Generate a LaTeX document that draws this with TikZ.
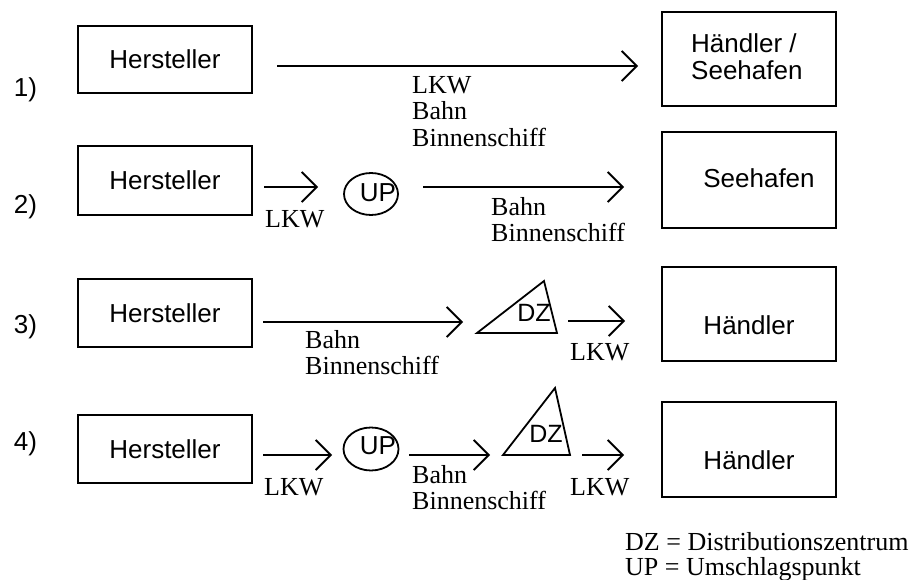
\documentclass[tikz,border=0pt]{standalone}
\usepackage{fontspec}
\setmainfont{Liberation Serif}
\newfontfamily\arialf{Liberation Sans}
\usetikzlibrary{arrows.meta,shapes.geometric}
\begin{document}
\begin{tikzpicture}[x=1pt,y=-1pt,
  lw/.style={line width=1.8pt},
  box/.style={draw,lw,minimum width=174pt,inner sep=0pt},
  sf/.style={font=\arialf\fontsize{26}{27}\selectfont,inner sep=0pt},
  rm/.style={font=\fontsize{26}{26.5}\selectfont,align=left,anchor=north west,inner sep=0pt},
  con/.style={lw,-{Straight Barb[length=15pt,width=30pt,line width=1.8pt]}},
  upnode/.style={draw,lw,ellipse,minimum width=54pt,minimum height=42pt,inner sep=0pt},
  tri/.style={lw,line join=miter}
]
\useasboundingbox (0,0) rectangle (915,580);

% row labels
\node[sf] (n1) at (25.5,90) {1)};
\node[sf] (n2) at (25.5,207) {2)};
\node[sf] (n3) at (25.5,327) {3)};
\node[sf] (n4) at (25.5,444) {4)};

% row 1
\node[box,minimum height=67pt,sf] (h1) at (165,59.5) {Hersteller};
\node[box,minimum height=94pt] (s1) at (749,59) {};
\node[sf,align=left,anchor=west] (s1t) at (691,56.5) {Händler /\\Seehafen};
\coordinate (a1s) at (277,66);
\coordinate (a1e) at (638,66);
\draw[con] (a1s) -- (a1e);
\node[rm] (l1) at (412,76) {LKW\\Bahn\\Binnenschiff};

% row 2
\node[box,minimum height=69pt,sf] (h2) at (165,180.5) {Hersteller};
\node[box,minimum height=96pt] (s2) at (749,180) {};
\node[sf] (s2t) at (759,178) {Seehafen};
\coordinate (b1s) at (264,187);
\coordinate (b1e) at (318,187);
\draw[con] (b1s) -- (b1e);
\node[rm] (l2a) at (265,210) {LKW};
\node[upnode] (up2) at (371,194) {};
\node[sf] (up2t) at (378,192.5) {UP};
\coordinate (b2s) at (423,187);
\coordinate (b2e) at (624,187);
\draw[con] (b2s) -- (b2e);
\node[rm] (l2b) at (491,197) {Bahn\\Binnenschiff};

% row 3
\node[box,minimum height=68pt,sf] (h3) at (165,313) {Hersteller};
\node[box,minimum height=94pt] (d3) at (749,314) {};
\node[sf] (d3t) at (749,325) {Händler};
\coordinate (c1s) at (263,322);
\coordinate (c1e) at (463,322);
\draw[con] (c1s) -- (c1e);
\node[rm] (l3a) at (305,330) {Bahn\\Binnenschiff};
\coordinate (t3a) at (477,333);
\coordinate (t3b) at (557,333);
\coordinate (t3c) at (544,281);
\draw[tri] (t3a) -- (t3b) -- (t3c) -- cycle;
\node[sf,font=\arialf\fontsize{25}{27}\selectfont] (dz3) at (534,312.5) {DZ};
\coordinate (c2s) at (568,321);
\coordinate (c2e) at (625,321);
\draw[con] (c2s) -- (c2e);
\node[rm] (l3b) at (570,343) {LKW};

% row 4
\node[box,minimum height=68pt,sf] (h4) at (165,449) {Hersteller};
\node[box,minimum height=95pt] (d4) at (749,449.5) {};
\node[sf] (d4t) at (749,460) {Händler};
\coordinate (e1s) at (263,455);
\coordinate (e1e) at (332,455);
\draw[con] (e1s) -- (e1e);
\node[rm] (l4a) at (264,478) {LKW};
\node[upnode,minimum height=43pt,minimum width=55pt] (up4) at (371,449) {};
\node[sf] (up4t) at (378,446) {UP};
\coordinate (e2s) at (409,455);
\coordinate (e2e) at (490,455);
\draw[con] (e2s) -- (e2e);
\node[rm] (l4b) at (412,465) {Bahn\\Binnenschiff};
\coordinate (t4a) at (503,455);
\coordinate (t4b) at (570,455);
\coordinate (t4c) at (555,388);
\draw[tri] (t4a) -- (t4b) -- (t4c) -- cycle;
\node[sf,font=\arialf\fontsize{25}{27}\selectfont] (dz4) at (546,433.5) {DZ};
\coordinate (e3s) at (582,455);
\coordinate (e3e) at (624,455);
\draw[con] (e3s) -- (e3e);
\node[rm] (l4c) at (570,478) {LKW};

% legend
\node[rm,font=\fontsize{26}{25}\selectfont] (leg) at (625,532) {DZ = Distributionszentrum\\UP = Umschlagspunkt};
\end{tikzpicture}
\end{document}
